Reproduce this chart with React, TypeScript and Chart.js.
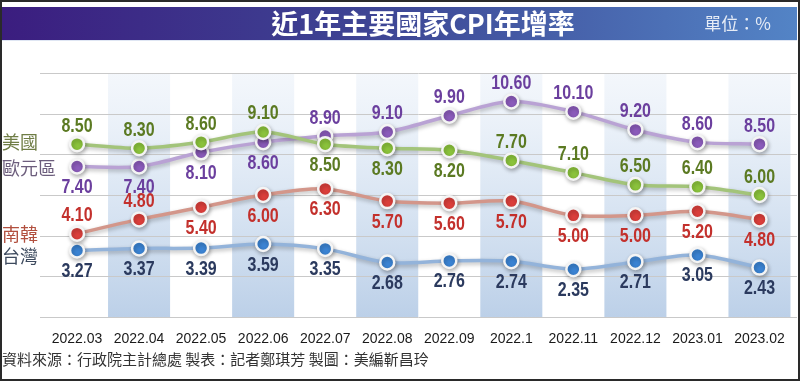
import React, { useEffect, useRef } from "react";
import { Chart, registerables } from "chart.js";

Chart.register(...registerables);

const months = ["2022.03", "2022.04", "2022.05", "2022.06", "2022.07", "2022.08", "2022.09", "2022.1", "2022.11", "2022.12", "2023.01", "2023.02"];
const usValues = [8.5, 8.3, 8.6, 9.1, 8.5, 8.3, 8.2, 7.7, 7.1, 6.5, 6.4, 6.0];
const euroValues = [7.4, 7.4, 8.1, 8.6, 8.9, 9.1, 9.9, 10.6, 10.1, 9.2, 8.6, 8.5];
const koreaValues = [4.1, 4.8, 5.4, 6.0, 6.3, 5.7, 5.6, 5.7, 5.0, 5.0, 5.2, 4.8];
const taiwanValues = [3.27, 3.37, 3.39, 3.59, 3.35, 2.68, 2.76, 2.74, 2.35, 2.71, 3.05, 2.43];

const seriesNames = ["美國", "歐元區", "南韓", "台灣"];
// label placement per point: 1 = above, -1 = below
const usLabelSide = [1, 1, 1, 1, -1, -1, -1, 1, 1, 1, 1, 1];
const euroLabelSide = [-1, -1, -1, -1, 1, 1, 1, 1, 1, 1, 1, 1];
const koreaLabelSide = [1, 1, -1, -1, -1, -1, -1, -1, -1, -1, -1, -1];
const taiwanLabelSide = [-1, -1, -1, -1, -1, -1, -1, -1, -1, -1, -1, -1];

const titleText = "近1年主要國家CPI年增率";
const unitText = "單位：%";
const footerText = "資料來源：行政院主計總處 製表：記者鄭琪芳 製圖：美編靳昌玲";

const W = 800;
const H = 381;

export default function App() {
  const ref = useRef<HTMLCanvasElement | null>(null);

  useEffect(() => {
    document.body.style.margin = "0";
    const canvas = ref.current!;
    const sides = [usLabelSide, euroLabelSide, koreaLabelSide, taiwanLabelSide];
    const labelColors = ["#5b7a22", "#6b3f9e", "#c3302c", "#2b3a5e"];
    const legendColors = ["#6f7d45", "#6c5d7c", "#b2503f", "#3d4a5e"];

    const decor = {
      id: "decor",
      beforeDraw(chart: any) {
        const { ctx } = chart;
        ctx.save();
        ctx.fillStyle = "#ffffff";
        ctx.fillRect(0, 0, W, H);
        ctx.restore();
      },
      beforeDatasetsDraw(chart: any) {
        const { ctx, chartArea } = chart;
        const xs = chart.scales.x;
        const ys = chart.scales.y;
        const bw = xs.width / months.length;
        ctx.save();
        for (let i = 1; i < months.length; i += 2) {
          const cx = xs.getPixelForValue(i);
          const g = ctx.createLinearGradient(0, chartArea.top, 0, chartArea.bottom);
          g.addColorStop(0, "rgba(232,239,248,0.5)");
          g.addColorStop(0.35, "rgba(220,231,244,0.8)");
          g.addColorStop(1, "#bcd0e8");
          ctx.fillStyle = g;
          ctx.fillRect(cx - bw / 2, chartArea.top, bw, chartArea.bottom - chartArea.top);
        }
        ctx.strokeStyle = "#c9c9c9";
        ctx.lineWidth = 1;
        for (const t of ys.ticks) {
          const y = Math.round(ys.getPixelForValue(t.value)) + 0.5;
          ctx.beginPath();
          ctx.moveTo(40, y);
          ctx.lineTo(797, y);
          ctx.stroke();
        }
        ctx.restore();
      },
      beforeDatasetDraw(chart: any) {
        const { ctx } = chart;
        ctx.save();
        ctx.shadowColor = "rgba(0,0,0,0.28)";
        ctx.shadowBlur = 4;
        ctx.shadowOffsetX = 1;
        ctx.shadowOffsetY = 2;
      },
      afterDatasetDraw(chart: any) {
        chart.ctx.restore();
      },
      afterDatasetsDraw(chart: any) {
        const { ctx } = chart;
        ctx.save();
        ctx.font = "bold 20px 'Liberation Sans', Arial, sans-serif";
        ctx.textAlign = "center";
        ctx.textBaseline = "middle";
        const sx = 0.8;
        chart.data.datasets.forEach((ds: any, di: number) => {
          const meta = chart.getDatasetMeta(di);
          meta.data.forEach((pt: any, i: number) => {
            const side = sides[di][i];
            const y = side > 0 ? pt.y - 18 : pt.y + 21;
            ctx.save();
            ctx.translate(pt.x, y);
            ctx.scale(sx, 1);
            ctx.fillStyle = labelColors[di];
            ctx.fillText((ds.data[i] as number).toFixed(2), 0, 0);
            ctx.restore();
          });
        });
        // series names on the left
        ctx.font = "18px 'Noto Sans CJK TC', sans-serif";
        ctx.textAlign = "left";
        const nameOffsets = [-2, 2, 1, 6];
        chart.data.datasets.forEach((ds: any, di: number) => {
          const meta = chart.getDatasetMeta(di);
          const y0 = meta.data[0].y + nameOffsets[di];
          ctx.fillStyle = legendColors[di];
          ctx.fillText(seriesNames[di], 2, y0);
        });
        ctx.restore();
      },
      afterDraw(chart: any) {
        const { ctx } = chart;
        ctx.save();
        // title bar
        const g = ctx.createLinearGradient(2, 0, 797, 0);
        g.addColorStop(0, "#3b1d7f");
        g.addColorStop(0.5, "#3e4896");
        g.addColorStop(1, "#5384c6");
        ctx.fillStyle = g;
        ctx.fillRect(2, 7, 795, 33);
        ctx.fillStyle = "#dfe6f3";
        ctx.fillRect(2, 40, 795, 1);
        ctx.fillStyle = "#ffffff";
        ctx.font = "bold 27px 'Noto Sans CJK TC', sans-serif";
        ctx.textAlign = "center";
        ctx.textBaseline = "middle";
        ctx.fillText(titleText, 423, 24);
        ctx.font = "17px 'Noto Sans CJK TC', sans-serif";
        ctx.fillStyle = "#e6ecf6";
        ctx.textAlign = "right";
        ctx.fillText(unitText, 771, 24);
        // footer
        ctx.font = "15px 'Noto Sans CJK TC', sans-serif";
        ctx.fillStyle = "#333333";
        ctx.textAlign = "left";
        ctx.fillText(footerText, 2, 359);
        // frame
        ctx.strokeStyle = "#2a2a2a";
        ctx.lineWidth = 3;
        ctx.strokeRect(0.5, 0.5, W - 1, H - 1);
        ctx.restore();
      },
    };

    const mk = (label: string, data: number[], line: string, point: string) => ({
      label,
      data,
      borderColor: line,
      borderWidth: 3.5,
      tension: 0.3,
      pointRadius: 7,
      pointBackgroundColor: point,
      pointBorderColor: "#f4f4f4",
      pointBorderWidth: 2.5,
      pointHoverRadius: 7,
      clip: false,
    });

    const chart = new Chart(canvas, {
      type: "line",
      data: {
        labels: months,
        datasets: [
          mk(seriesNames[0], usValues, "#a3c47a", "#8cc43c"),
          mk(seriesNames[1], euroValues, "#b9a2d4", "#8c5cbc"),
          mk(seriesNames[2], koreaValues, "#d3968a", "#dc3f3b"),
          mk(seriesNames[3], taiwanValues, "#93b3da", "#3b84d4"),
        ],
      },
      options: {
        animation: false,
        responsive: false,
        devicePixelRatio: 1,
        events: [],
        layout: { padding: { left: 46, right: 1, top: 73, bottom: 0 } },
        plugins: { legend: { display: false }, tooltip: { enabled: false }, title: { display: false } },
        scales: {
          x: {
            type: "category",
            offset: true,
            grid: { display: false, drawTicks: false },
            border: { display: false },
            ticks: {
              padding: 14,
              color: "#1a1a1a",
              font: { size: 14, family: "'Liberation Sans', Arial, sans-serif" },
              maxRotation: 0,
              autoSkip: false,
            },
            afterFit: (s: any) => {
              s.height = 64;
            },
          },
          y: {
            display: false,
            min: 0,
            max: 12,
            ticks: { stepSize: 2 },
          },
        },
      },
      plugins: [decor],
    });
    return () => chart.destroy();
  }, []);

  return (
    <div style={{ width: W, height: H }}>
      <canvas ref={ref} width={W} height={H} style={{ display: "block", width: W, height: H }} />
    </div>
  );
}
